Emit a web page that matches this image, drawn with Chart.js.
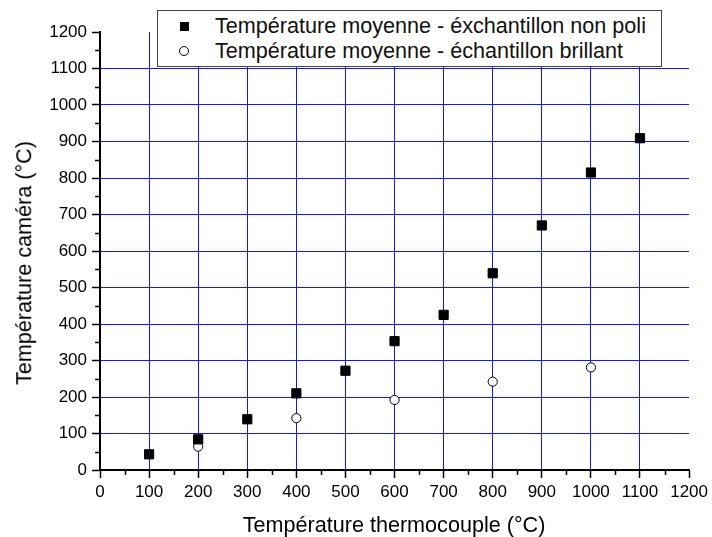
<!DOCTYPE html>
<html>
<head>
<meta charset="utf-8">
<script src="https://cdn.jsdelivr.net/npm/chart.js@4.4.1/dist/chart.umd.min.js"></script>
<style>
  html, body { margin: 0; padding: 0; background: #fff; }
  #wrap { position: relative; width: 712px; height: 537px; overflow: hidden; }
  #c { position: absolute; left: 0; top: 0; }
  #legend {
    position: absolute; left: 157px; top: 10px; width: 505px; height: 57px;
    box-sizing: border-box; border: 1px solid #444; background: #fff;
    font-family: "Liberation Sans", Arial, sans-serif; font-size: 21.6px; color: #111;
  }
  .txt { position: absolute; left: 57px; height: 27px; line-height: 27px; white-space: nowrap; }
  .sq { position: absolute; left: 22px; top: 11px; width: 9px; height: 9px; background: #000; }
  .ci { position: absolute; left: 21px; top: 35px; width: 8px; height: 8px; border: 1px solid #000; border-radius: 50%; background: #fff; }
  .title { position: absolute; font-family: "Liberation Sans", Arial, sans-serif; color: #000; white-space: nowrap; line-height: 1; }
  #xt { font-size: 21.6px; left: 394px; top: 525px; transform: translate(-50%, -50%); }
  #yt { font-size: 21.6px; left: 24px; top: 263px; transform: translate(-50%, -50%) rotate(-90deg); }
</style>
</head>
<body>
<div id="wrap">
  <canvas id="c" width="712" height="537"></canvas>
  <div id="legend">
    <span class="sq"></span><span class="txt" id="l1" style="top:1px"></span>
    <span class="ci"></span><span class="txt" id="l2" style="top:26px"></span>
  </div>
  <div class="title" id="xt"></div>
  <div class="title" id="yt"></div>
</div>
<script>
const xNonPoli = [100, 200, 300, 400, 500, 600, 700, 800, 900, 1000, 1100];
const yNonPoli = [43, 84, 139, 210, 272, 353, 425, 539, 670, 815, 909];
const xBrillant = [200, 400, 600, 800, 1000];
const yBrillant = [64, 142, 192, 242, 281];
const seriesNames = ["Température moyenne - éxchantillon non poli", "Température moyenne - échantillon brillant"];
const xTitle = "Température thermocouple (°C)";
const yTitle = "Température caméra (°C)";
const axisMin = 0, axisMax = 1200, majorStep = 100, minorStep = 50;

document.getElementById('l1').textContent = seriesNames[0];
document.getElementById('l2').textContent = seriesNames[1];
document.getElementById('xt').textContent = xTitle;
document.getElementById('yt').textContent = yTitle;

const FONT = "'Liberation Sans', Arial, sans-serif";
const GRID = 'rgb(20,20,255)';

const minorTicks = {
  id: 'minorTicks',
  afterDraw(chart) {
    const ctx = chart.ctx;
    const xs = chart.scales.x, ys = chart.scales.y;
    const area = chart.chartArea;
    ctx.save();
    ctx.strokeStyle = '#000';
    ctx.lineWidth = 1.5;
    ctx.beginPath();
    for (let v = axisMin + minorStep; v < axisMax; v += majorStep) {
      const px = Math.round(xs.getPixelForValue(v)) + 0.5;
      ctx.moveTo(px, area.bottom);
      ctx.lineTo(px, area.bottom + 5);
      const py = Math.round(ys.getPixelForValue(v)) + 0.5;
      ctx.moveTo(area.left, py);
      ctx.lineTo(area.left - 5, py);
    }
    ctx.stroke();
    ctx.restore();
  }
};

function gridColor(c) {
  const v = c.tick ? c.tick.value : null;
  return (v === axisMin || v === axisMax) ? 'rgba(0,0,0,0)' : GRID;
}
const tickLabel = (v) => String(v);

new Chart(document.getElementById('c'), {
  type: 'scatter',
  data: {
    datasets: [
      {
        label: seriesNames[0],
        data: xNonPoli.map((x, i) => ({ x: x, y: yNonPoli[i] })),
        pointStyle: 'rect',
        pointRadius: 6.5,
        backgroundColor: '#000',
        borderColor: '#000',
        borderWidth: 1
      },
      {
        label: seriesNames[1],
        data: xBrillant.map((x, i) => ({ x: x, y: yBrillant[i] })),
        pointStyle: 'circle',
        pointRadius: 4.6,
        backgroundColor: '#fff',
        borderColor: '#000',
        borderWidth: 1
      }
    ]
  },
  options: {
    responsive: false,
    animation: false,
    events: [],
    layout: { padding: { top: 32, right: 20, left: 0, bottom: 0 } },
    plugins: { legend: { display: false }, tooltip: { enabled: false } },
    scales: {
      x: {
        type: 'linear', min: axisMin, max: axisMax,
        afterFit(s) { s.height = 67; },
        ticks: { stepSize: majorStep, color: '#000', font: { family: FONT, size: 17 }, padding: 4, maxRotation: 0, autoSkip: false, callback: tickLabel },
        grid: { color: gridColor, lineWidth: 1, tickColor: '#000', tickLength: 8, tickWidth: 1.5 },
        border: { display: true, color: '#000', width: 2 },
        title: { display: false }
      },
      y: {
        type: 'linear', min: axisMin, max: axisMax,
        afterFit(s) { s.width = 100; },
        ticks: { stepSize: majorStep, color: '#000', font: { family: FONT, size: 17 }, padding: 5, autoSkip: false, callback: tickLabel },
        grid: { color: gridColor, lineWidth: 1, tickColor: '#000', tickLength: 8, tickWidth: 1.5 },
        border: { display: true, color: '#000', width: 2 },
        title: { display: false }
      }
    }
  },
  plugins: [minorTicks]
});
</script>
</body>
</html>
